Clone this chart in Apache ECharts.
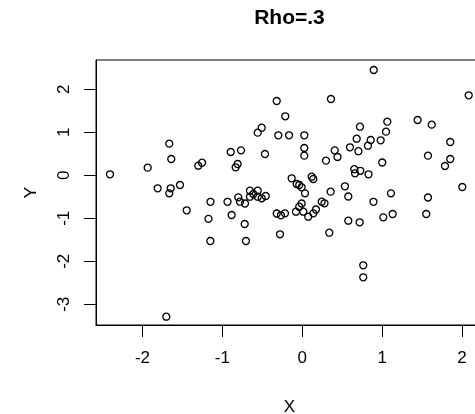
<!DOCTYPE html>
<html>
<head>
<meta charset="utf-8">
<script src="https://cdn.jsdelivr.net/npm/echarts@6/dist/echarts.min.js"></script>
<style>
html,body{margin:0;padding:0;background:#fff;}
#chart{width:475px;height:414px;}
</style>
</head>
<body>
<div id="chart"></div>
<script>
const titleText = 'Rho=.3';
const xName = 'X';
const yName = 'Y';
const xTicks = [-2, -1, 0, 1, 2];
const yTicks = [-3, -2, -1, 0, 1, 2];
const xValues = [
 -2.407,-1.935,-1.810,-1.702,-1.665,-1.640,-1.647,-1.665,-1.531,-1.447,
 -1.302,-1.255,-1.149,-1.174,-1.151,-0.936,-0.884,-0.896,-0.767,-0.809,
 -0.834,-0.801,-0.780,-0.717,-0.721,-0.705,-0.655,-0.558,-0.655,-0.558,
 -0.613,-0.508,-0.458,-0.558,-0.508,-0.467,-0.320,-0.213,-0.300,-0.166,
 0.025,0.025,0.025,-0.320,-0.267,-0.279,-0.217,-0.133,-0.070,-0.038,
 -0.008,0.034,0.118,0.138,0.355,-0.008,-0.038,-0.079,0.013,0.075,
 0.138,0.171,0.243,0.278,0.338,0.359,0.406,0.441,0.297,0.894,
 2.083,1.444,1.620,0.722,1.064,1.048,0.681,0.856,0.981,0.822,
 0.597,0.703,1.852,1.573,1.852,1.786,1.001,0.651,0.660,0.726,
 0.829,0.534,0.576,1.110,0.891,1.573,2.003,0.576,0.718,1.014,
 1.131,1.552,0.763,0.763
];
const yValues = [
 0.023,0.177,-0.302,-3.288,0.735,0.379,-0.302,-0.419,-0.226,-0.814,
 0.223,0.293,-0.616,-1.012,-1.528,-0.616,-0.923,0.542,0.581,0.263,
 0.186,-0.512,-0.614,-0.656,-1.133,-1.528,-0.358,-0.358,-0.498,-0.498,
 -0.435,-0.535,-0.481,0.991,1.107,0.495,1.728,1.372,0.930,0.930,
 0.930,0.635,0.456,-0.888,-0.930,-1.372,-0.884,-0.070,-0.202,-0.226,
 -0.279,-0.419,-0.033,-0.086,-0.381,-0.656,-0.730,-0.847,-0.847,-0.963,
 -0.884,-0.795,-0.614,-0.651,-1.335,1.774,0.581,0.426,0.340,2.449,
 1.860,1.286,1.177,1.130,1.247,1.014,0.851,0.821,0.814,0.688,
 0.651,0.560,0.774,0.456,0.379,0.216,0.298,0.142,0.047,0.105,
 0.023,-0.256,-0.493,-0.419,-0.616,-0.516,-0.272,-1.056,-1.093,-0.977,
 -0.900,-0.900,-2.093,-2.372
];
const points = xValues.map((x, i) => [x, yValues[i]]);

const chart = echarts.init(document.getElementById('chart'), null, {renderer: 'canvas'});
const font = 'Liberation Sans, Arial, sans-serif';
chart.setOption({
  animation: false,
  backgroundColor: '#fff',
  graphic: [{
    type: 'text', x: 289.5, y: 18.5,
    style: {text: titleText, textAlign: 'center', textVerticalAlign: 'middle',
            font: 'bold 21px ' + font, fill: '#000'}
  }],
  grid: {left: 96, top: 60, right: -8, bottom: 89, show: true, containLabel: false,
         outerBoundsMode: 'none',
         borderColor: '#000', borderWidth: 1, backgroundColor: 'transparent'},
  xAxis: {
    type: 'value', min: -2.582, max: 2.262,
    name: xName, nameLocation: 'middle', nameGap: 74,
    nameTextStyle: {fontFamily: font, fontSize: 17, color: '#000'},
    axisLine: {show: true, onZero: false, lineStyle: {color: '#000', width: 1}},
    axisTick: {show: true, length: 12, customValues: xTicks, lineStyle: {color: '#000', width: 1}},
    axisLabel: {show: true, customValues: xTicks, margin: 25, fontFamily: font, fontSize: 17, color: '#000'},
    splitLine: {show: false}
  },
  yAxis: {
    type: 'value', min: -3.481, max: 2.681,
    name: yName, nameLocation: 'middle', nameGap: 56, nameRotate: 90,
    nameTextStyle: {fontFamily: font, fontSize: 17, color: '#000'},
    axisLine: {show: true, onZero: false, lineStyle: {color: '#000', width: 1}},
    axisTick: {show: true, length: 12, customValues: yTicks, lineStyle: {color: '#000', width: 1}},
    axisLabel: {show: true, customValues: yTicks, margin: 23, rotate: 90, fontFamily: font, fontSize: 17, color: '#000'},
    splitLine: {show: false}
  },
  series: [{
    type: 'scatter', data: points, symbol: 'circle', symbolSize: 7,
    itemStyle: {color: 'rgba(0,0,0,0)', borderColor: '#000', borderWidth: 1.3, opacity: 1},
    emphasis: {disabled: true}
  }]
});
</script>
</body>
</html>
